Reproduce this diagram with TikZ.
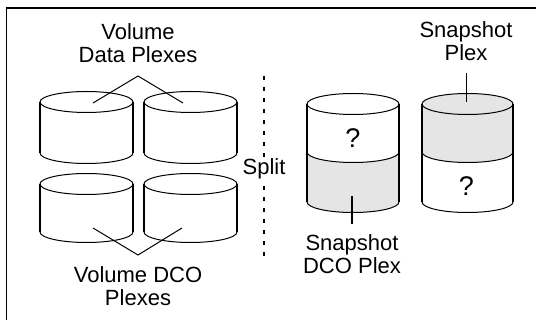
\documentclass[tikz,border=0pt]{standalone}
\usepackage{fontspec}
\setmainfont{Liberation Sans}
\newcommand\mycyl[4]{% cx, rx, ytop, ybottom
  \draw[rim] (#1,#3) ellipse [x radius=#2, y radius=10.5];
  \draw[rim] (#1-#2,#4) arc[start angle=180,end angle=0,x radius=#2,y radius=10.5];
  \draw[side] (#1-#2,#3) -- (#1-#2,#4) (#1+#2,#3) -- (#1+#2,#4);
}
\begin{document}
\begin{tikzpicture}[x=1pt,y=-1pt,
  lbl/.style={font=\fontsize{22}{23}\selectfont, align=center, inner sep=0pt, anchor=base},
  qmark/.style={font=\fontsize{27}{27}\selectfont, inner sep=0pt},
  side/.style={line width=1.7pt},
  rim/.style={line width=1pt},
  conn/.style={line width=1pt},
  shade/.style={fill=black!10},
  splitline/.style={line width=2pt, dash pattern=on 4.5pt off 6.5pt}]
\useasboundingbox (0,0) rectangle (536,320);
% frame
\draw[line width=2pt] (6,8.5) -- (536,8.5);
\draw[line width=1.3pt] (6.5,8) -- (6.5,320);
% left cylinders
\mycyl{86.5}{46.5}{102}{153}
\mycyl{190.5}{46.5}{102}{153}
\mycyl{86.5}{46.5}{184}{232}
\mycyl{190.5}{46.5}{184}{232}
% right cylinder 1 (lower part shaded)
\fill[shade] (307,152) arc[start angle=180,end angle=0,x radius=46,y radius=10.5] -- (399,202) arc[start angle=0,end angle=180,x radius=46,y radius=10.5] -- cycle;
\draw[rim] (307,152) arc[start angle=180,end angle=0,x radius=46,y radius=10.5];
\mycyl{353}{46}{104}{202}
% right cylinder 2 (upper part shaded)
\fill[shade] (422,104) arc[start angle=180,end angle=360,x radius=45.5,y radius=10.5] -- (513,152) arc[start angle=0,end angle=180,x radius=45.5,y radius=10.5] -- cycle;
\draw[rim] (422,152) arc[start angle=180,end angle=0,x radius=45.5,y radius=10.5];
\mycyl{467.5}{45.5}{104}{202}
% question marks
\node[qmark] (q1) at (353,138) {?};
\node[qmark] (q2) at (466.5,186) {?};
% split line
\coordinate (s1) at (263.5,76);
\coordinate (s2) at (263.5,258);
\draw[splitline] (s1) -- (s2);
\node[lbl, fill=white, inner sep=1pt] (split) at (264,175) {Split};
% labels (base = last line baseline)
\node[lbl] (vdp) at (138,63) {Volume\\Data Plexes};
\node[lbl] (vdco) at (138,306) {Volume DCO\\Plexes};
\node[lbl] (sp) at (466,61) {Snapshot\\Plex};
\node[lbl] (sdco) at (352,274) {Snapshot\\DCO Plex};
% connectors
\coordinate (a1) at (138,76);
\coordinate (t1) at (93,103);
\coordinate (t2) at (183,103);
\draw[conn] (t1) -- (a1) -- (t2);
\coordinate (a2) at (138,255);
\coordinate (b1) at (93,228);
\coordinate (b2) at (182,228);
\draw[conn] (b1) -- (a2) -- (b2);
\coordinate (p1) at (466.5,73);
\coordinate (p2) at (466.5,102);
\draw[line width=1.3pt] (p1) -- (p2);
\coordinate (d1) at (352,196);
\coordinate (d2) at (352,224);
\draw[line width=1.3pt] (d1) -- (d2);
\end{tikzpicture}
\end{document}
